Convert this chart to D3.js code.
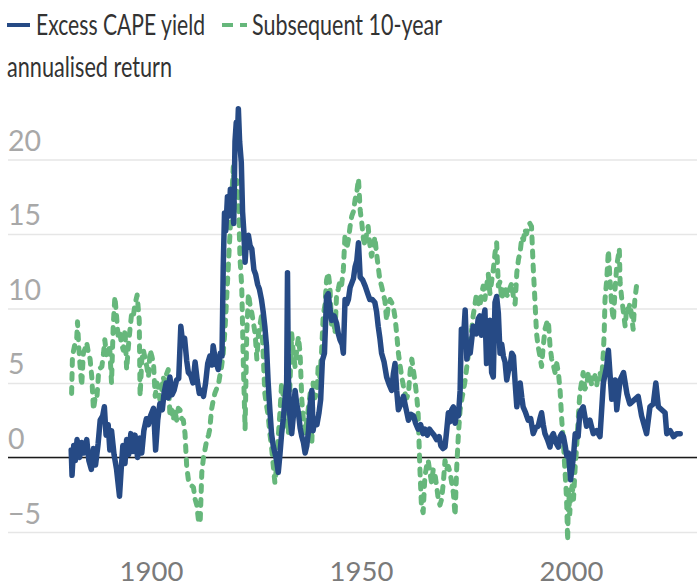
<!DOCTYPE html>
<meta charset="utf-8">
<style>
body { margin: 0; background: #fff; }
svg { display: block; font-family: Lato, "Open Sans", sans-serif; }
.grid line { stroke: #e6e6e6; stroke-width: 1.5px; }
.ylab { fill: #a8a8a8; font-size: 28.5px; }
.xlab { fill: #7a7a7a; font-size: 27.5px; }
.legend text { fill: #333; font-size: 28px; }
</style>
<body>
<script src="https://cdn.jsdelivr.net/npm/d3@7"></script>
<script>
var width = 697,
    height = 586;

var blueColor = "#264a85",
    greenColor = "#66b77b";

var yTicks = [-5, 0, 5, 10, 15, 20];
var xTicks = [1900, 1950, 2000];

// Excess CAPE yield
var capeYears = [1881.0, 1881.2, 1881.6, 1882.0, 1882.4, 1883.0, 1883.5, 1884.0, 1884.7, 1885.2, 1885.8, 1886.3, 1886.8, 1887.4, 1887.9, 1888.5, 1888.9, 1889.3, 1889.8, 1890.2, 1890.6, 1891.2, 1891.8, 1892.5, 1892.9, 1893.3, 1893.8, 1894.2, 1894.7, 1895.2, 1895.7, 1896.2, 1896.8, 1897.4, 1897.8, 1898.3, 1898.9, 1899.4, 1899.9, 1900.6, 1901.1, 1901.6, 1902.1, 1902.7, 1903.1, 1903.6, 1904.1, 1904.5, 1905.0, 1905.5, 1906.1, 1906.6, 1907.1, 1907.5, 1908.0, 1908.5, 1908.9,
  1909.5, 1910.0, 1910.5, 1911.0, 1911.5, 1912.0, 1912.5, 1913.0, 1913.5, 1914.0, 1914.5, 1914.8, 1915.3, 1916.0, 1916.5, 1916.9, 1917.2, 1917.5, 1917.8, 1918.2, 1918.6, 1918.9, 1919.4, 1919.7, 1920.0, 1920.3, 1920.6, 1920.8, 1921.1, 1921.5, 1921.8, 1922.1, 1922.4, 1922.8, 1923.2, 1923.6, 1924.0, 1924.5, 1924.9, 1925.4, 1925.8, 1926.3, 1926.7, 1927.1, 1927.5, 1927.9, 1928.3, 1928.7, 1929.1, 1929.5, 1929.9, 1930.3, 1930.7, 1931.1, 1931.5, 1931.9, 1932.3, 1932.5, 1932.7, 1933.0, 1933.5, 1933.9, 1934.3, 1934.7, 1935.1, 1935.5, 1935.9, 1936.3, 1936.7, 1937.1, 1937.5, 1937.9, 1938.3,
  1938.6, 1939.0, 1939.5, 1940.0, 1940.4, 1940.8, 1941.3, 1941.8, 1942.2, 1942.6, 1943.0, 1943.6, 1944.2, 1944.6, 1945.0, 1945.5, 1945.8, 1946.2, 1946.6, 1947.0, 1947.4, 1947.8, 1948.2, 1948.6, 1949.0, 1949.4, 1949.8, 1950.4, 1951.0, 1951.6, 1952.1, 1952.7, 1953.3, 1953.7, 1954.1, 1954.5, 1954.9, 1955.5, 1956.1, 1956.7, 1957.3, 1957.7, 1958.1, 1958.5, 1958.9, 1959.5, 1960.1, 1960.7, 1961.3, 1961.9, 1962.5, 1963.0, 1963.6, 1964.2, 1964.8, 1965.2, 1965.8, 1966.3, 1966.8, 1967.4, 1968.0, 1968.6,
  1969.0, 1969.5, 1970.0, 1970.4, 1970.8, 1971.2, 1971.6, 1972.0, 1972.4, 1972.8, 1973.2, 1973.6, 1973.9, 1974.3, 1974.8, 1975.2, 1975.6, 1976.0, 1976.4, 1976.7, 1977.1, 1977.5, 1977.9, 1978.3, 1978.7, 1979.1, 1979.5, 1979.9, 1980.3, 1980.7, 1981.1, 1981.5, 1981.9, 1982.3, 1982.7, 1983.1, 1983.5, 1983.9, 1984.3, 1984.7, 1985.1, 1985.5, 1985.9, 1986.3, 1986.7, 1987.1, 1987.5, 1987.9, 1988.3, 1988.6, 1989.2, 1989.8, 1990.4, 1991.0, 1991.6, 1992.2, 1992.6, 1993.0, 1993.4, 1993.8, 1994.4, 1995.0, 1995.4, 1995.8, 1996.4, 1997.0, 1997.4, 1997.8, 1998.2, 1998.6,
  1999.0, 1999.4, 1999.9, 2000.3, 2000.6, 2001.0, 2001.7, 2002.1, 2002.9, 2003.7, 2004.5, 2005.3, 2006.1, 2006.9, 2007.7, 2008.5, 2008.9, 2009.7, 2010.5, 2010.9, 2011.7, 2012.5, 2013.3, 2014.0, 2015.2, 2016.0, 2016.8, 2018.0, 2018.8, 2019.6, 2020.2, 2020.8, 2021.6, 2022.4, 2022.8, 2023.6, 2024.4, 2025.2, 2026.0];
var capeValues = [0.5, -1.2, 0.8, -0.2, 1.2, 0.0, 1.0, 0.3, 1.2, -0.2, -0.8, 0.6, -0.5, 0.9, 2.5, 2.8, 3.4, 1.5, 2.2, 0.5, 1.8, 0.2, -0.8, -2.6, -0.8, 0.8, -0.4, 1.2, 0.2, 1.6, 0.4, 1.5, 0.0, 1.3, 0.3, 1.8, 2.6, 2.2, 2.8, 3.3, 0.5, 2.5, 3.6, 3.2, 4.3, 5.0, 4.0, 5.4, 4.2, 4.5, 5.2, 5.3, 8.8, 7.8, 8.0, 6.5, 5.7,
  5.5, 5.0, 6.4, 5.2, 4.3, 4.5, 4.1, 5.0, 6.3, 6.8, 6.2, 7.5, 6.6, 5.9, 7.0, 6.8, 12.8, 16.4, 15.2, 17.5, 16.2, 18.0, 17.0, 15.7, 21.2, 22.5, 21.8, 23.4, 21.2, 19.8, 16.5, 15.2, 13.1, 14.8, 14.9, 14.2, 14.0, 12.6, 12.3, 11.6, 11.3, 10.6, 9.8, 8.8, 7.5, 5.0, 3.2, 1.6, 0.8, 0.3, -0.2, -1.0, 0.2, 1.6, 2.6, 3.9, 5.0, 12.4, 5.5, 3.0, 1.6, 2.8, 4.5, 3.6, 3.0, 2.0, 1.4, 1.0, 0.3, 0.8, 1.8, 3.6, 4.5,
  1.8, 2.6, 2.2, 3.0, 3.9, 6.5, 7.0, 10.8, 11.0, 10.0, 9.2, 9.5, 9.0, 8.3, 7.9, 7.6, 7.0, 10.6, 10.3, 10.6, 11.4, 11.7, 12.0, 12.8, 13.2, 14.4, 12.1, 11.9, 11.5, 11.0, 10.6, 10.6, 10.4, 9.8, 8.8, 8.0, 7.0, 6.4, 5.4, 4.9, 4.5, 5.6, 6.3, 4.5, 3.2, 3.6, 4.1, 3.3, 2.5, 2.9, 2.8, 2.3, 1.9, 2.2, 1.6, 1.9, 1.5, 1.9, 1.7, 1.5, 1.2, 1.4,
  0.8, 0.6, 0.7, 1.8, 3.0, 2.4, 3.2, 3.4, 2.3, 3.0, 2.8, 4.5, 8.6, 7.5, 9.9, 6.6, 7.4, 7.0, 8.0, 8.8, 8.5, 8.3, 9.3, 9.5, 8.2, 9.2, 9.9, 6.3, 7.5, 9.2, 5.7, 5.4, 10.4, 10.8, 9.7, 7.0, 7.6, 6.8, 6.4, 5.2, 5.8, 6.1, 7.0, 6.8, 5.0, 3.4, 4.2, 5.0, 4.0, 3.4, 3.0, 2.5, 2.6, 1.6, 2.0, 2.1, 2.6, 3.0, 2.2, 1.6, 1.2, 0.7, 1.4, 1.6, 1.0, 0.7, 1.4, 1.6, 1.4, 0.8,
  0.1, 0.3, -1.5, -0.6, 0.1, 1.6, 1.4, 3.0, 3.4, 2.1, 2.5, 1.6, 1.8, 1.4, 5.0, 6.1, 7.2, 3.9, 5.2, 3.2, 5.2, 5.7, 4.3, 3.6, 3.9, 4.1, 2.8, 1.6, 3.4, 3.6, 5.0, 3.4, 3.2, 3.0, 1.6, 1.8, 1.4, 1.6, 1.6];

// Subsequent 10-year annualised return
var returnYears = [1881.1, 1881.3, 1881.8, 1882.3, 1882.5, 1882.8, 1883.1, 1883.5, 1883.9, 1884.3, 1884.7, 1885.1, 1885.5, 1885.9, 1886.3, 1886.7, 1887.1, 1887.5, 1887.9, 1888.3, 1888.7, 1889.0, 1889.4, 1889.8, 1890.2, 1890.6, 1891.0, 1891.4, 1891.8, 1892.2, 1892.6, 1893.0, 1893.4, 1893.8, 1894.2, 1894.6, 1895.0, 1895.4, 1895.8, 1896.2, 1896.7, 1897.2, 1897.4, 1897.8, 1898.2, 1898.6, 1899.0, 1899.4, 1899.8, 1900.2, 1900.6, 1901.0, 1901.4, 1901.7, 1902.1, 1902.5, 1902.9, 1903.3, 1903.7, 1904.1, 1904.5, 1904.9, 1905.3, 1905.7, 1906.1, 1906.5, 1906.9, 1907.3, 1907.7, 1908.1, 1908.5, 1908.9,
  1909.3, 1909.7, 1910.1, 1910.5, 1910.9, 1911.3, 1911.7, 1912.1, 1912.5, 1912.9, 1913.3, 1913.7, 1914.0, 1914.4, 1914.8, 1915.2, 1915.6, 1916.0, 1916.4, 1916.8, 1917.2, 1917.6, 1918.0, 1918.4, 1918.8, 1919.2, 1919.6, 1920.0, 1920.4, 1920.8, 1921.2, 1921.6, 1922.0, 1922.4, 1922.8, 1923.2, 1923.6, 1924.0, 1924.4, 1924.8, 1925.2, 1925.6, 1926.0, 1926.3, 1926.7, 1927.1, 1927.5, 1927.9, 1928.3, 1928.7, 1929.1, 1929.5, 1929.9, 1930.3, 1930.7, 1931.1, 1931.5, 1931.9, 1932.3, 1932.7, 1933.1, 1933.5, 1933.9, 1934.3, 1934.7, 1935.1, 1935.5, 1935.9, 1936.3, 1936.7, 1937.1, 1937.5, 1937.9,
  1938.3, 1938.6, 1939.0, 1939.5, 1939.8, 1940.2, 1940.6, 1941.0, 1941.4, 1941.8, 1942.2, 1942.6, 1943.0, 1943.4, 1943.8, 1944.2, 1944.6, 1945.0, 1945.4, 1945.8, 1946.2, 1946.6, 1947.0, 1947.4, 1947.8, 1948.2, 1948.6, 1949.0, 1949.4, 1949.8, 1950.2, 1950.6, 1951.0, 1951.4, 1951.7, 1952.1, 1952.5, 1952.9, 1953.3, 1953.7, 1954.1, 1954.5, 1954.9, 1955.3, 1955.7, 1956.1, 1956.5, 1956.9, 1957.3, 1957.7, 1958.1, 1958.5, 1958.9, 1959.3, 1959.7, 1960.1, 1960.5, 1960.9, 1961.3, 1961.7, 1962.1, 1962.5, 1962.9, 1963.3, 1963.6, 1964.0, 1964.4, 1964.8, 1965.2, 1965.6, 1966.0, 1966.4, 1966.8, 1967.2, 1967.6, 1968.0, 1968.4, 1968.8,
  1969.2, 1969.6, 1970.0, 1970.4, 1970.8, 1971.2, 1971.6, 1972.0, 1972.4, 1972.8, 1973.2, 1973.6, 1974.0, 1974.4, 1974.8, 1975.2, 1975.6, 1976.0, 1976.4, 1976.7, 1977.1, 1977.5, 1977.9, 1978.3, 1978.7, 1979.1, 1979.5, 1979.9, 1980.3, 1980.7, 1981.1, 1981.5, 1981.9, 1982.3, 1982.7, 1983.1, 1983.5, 1983.9, 1984.3, 1984.7, 1985.1, 1985.5, 1985.9, 1986.3, 1986.7, 1987.1, 1987.5, 1987.9, 1988.3, 1988.7, 1989.0, 1989.4, 1989.8, 1990.2, 1990.6, 1991.0, 1991.4, 1991.8, 1992.2, 1992.6, 1993.0, 1993.4, 1993.8, 1994.2, 1994.6, 1995.0, 1995.4, 1995.8, 1996.2, 1996.6, 1997.0, 1997.4, 1997.8,
  1998.2, 1998.5, 1998.8, 1999.0, 1999.2, 1999.4, 1999.7, 2000.0, 2000.3, 2000.6, 2001.0, 2001.3, 2001.7, 2002.1, 2002.5, 2002.9, 2003.3, 2003.7, 2004.1, 2004.5, 2004.9, 2005.3, 2005.7, 2006.1, 2006.5, 2006.9, 2007.3, 2007.7, 2007.9, 2008.1, 2008.5, 2008.9, 2009.3, 2009.7, 2010.1, 2010.5, 2010.9, 2011.3, 2011.5, 2011.7, 2012.1, 2012.5, 2012.9, 2013.3, 2013.7, 2014.0, 2014.4, 2014.8, 2015.2, 2015.6, 2016.0];
var returnValues = [4.3, 6.8, 7.5, 7.9, 9.1, 7.4, 6.2, 4.8, 7.0, 7.3, 7.7, 7.0, 6.6, 5.4, 3.2, 4.0, 3.9, 5.6, 6.0, 6.1, 7.0, 7.9, 6.9, 7.5, 7.2, 5.0, 8.8, 10.8, 9.5, 8.0, 8.3, 7.6, 7.2, 8.6, 5.9, 7.4, 8.6, 9.7, 9.5, 10.3, 10.9, 9.2, 4.1, 6.5, 7.2, 6.6, 6.1, 5.4, 7.2, 6.8, 6.3, 4.1, 5.0, 4.8, 3.9, 4.4, 5.4, 5.0, 5.6, 5.9, 2.8, 3.2, 2.5, 3.2, 2.5, 3.3, 3.2, 2.6, 2.5, 1.6, -0.6, -1.5,
  -1.6, -1.9, -2.0, -2.8, -3.2, -4.2, -4.4, -1.0, 0.0, 0.6, 1.2, 1.5, 1.9, 3.2, 3.8, 4.3, 4.6, 4.8, 5.5, 6.1, 7.0, 8.5, 10.6, 12.8, 15.0, 17.3, 19.5, 16.8, 18.6, 17.5, 13.3, 11.5, 6.1, 1.9, 8.3, 11.0, 10.2, 9.7, 9.0, 8.3, 6.6, 8.3, 9.0, 9.5, 7.0, 4.3, 3.5, 2.8, 1.6, 0.7, -0.5, -1.7, -0.6, 1.4, 3.0, 5.0, 4.0, 4.3, 2.5, 1.6, 5.0, 8.3, 7.0, 6.1, 7.2, 8.1, 7.0, 3.9, 2.5, 1.6, 2.5, 3.4, 4.3,
  1.0, 5.0, 4.0, 4.3, 6.1, 5.4, 7.0, 9.5, 10.2, 11.9, 12.4, 11.5, 8.8, 9.6, 8.3, 11.0, 11.3, 11.9, 11.6, 12.6, 15.0, 14.0, 14.6, 15.5, 16.2, 16.5, 17.3, 17.8, 18.7, 16.6, 15.7, 14.6, 14.2, 15.2, 15.5, 14.3, 13.5, 14.0, 14.8, 13.7, 12.8, 11.9, 11.5, 11.0, 10.5, 9.2, 10.2, 10.6, 10.4, 10.1, 9.4, 8.3, 7.0, 6.2, 5.4, 4.8, 4.3, 4.0, 4.3, 5.8, 6.6, 5.8, 5.0, 4.0, 3.0, -0.6, -3.3, -3.7, -1.3, -0.6, -0.2, -1.0, -1.7, -0.8, -1.1, -1.9, -2.8, -3.2,
  -2.8, -1.7, -0.2, -0.8, -0.6, -1.0, -1.7, -2.4, -3.9, -0.6, 1.6, 3.2, 3.9, 4.5, 5.2, 6.1, 7.0, 7.9, 8.7, 9.5, 10.2, 11.0, 10.4, 10.1, 11.0, 11.5, 10.6, 11.5, 12.3, 11.0, 11.8, 12.6, 13.7, 14.4, 11.5, 11.8, 10.6, 11.2, 11.5, 10.9, 10.8, 11.4, 11.7, 10.7, 10.3, 12.4, 13.3, 13.8, 14.8, 14.6, 15.3, 15.0, 15.5, 15.7, 15.5, 12.8, 10.6, 8.3, 7.4, 6.8, 6.1, 7.5, 8.6, 9.0, 9.2, 7.5, 6.6, 6.2, 5.7, 6.3, 5.7, 4.5, 2.5,
  1.0, -0.6, -2.0, -3.3, -5.6, -2.2, -3.8, -2.2, -1.9, -2.8, -0.6, 0.5, 2.5, 4.3, 5.0, 5.7, 4.6, 4.8, 5.6, 5.7, 4.9, 5.2, 5.5, 4.8, 5.6, 5.7, 5.2, 7.0, 8.3, 10.6, 11.9, 13.9, 11.9, 10.1, 9.2, 11.3, 12.9, 13.6, 14.0, 11.7, 10.6, 9.7, 8.8, 10.1, 9.9, 10.3, 9.6, 8.6, 10.6, 11.5, 11.9];

var cape = capeYears.map(function (d, i) { return [d, capeValues[i]]; });
var returns = returnYears.map(function (d, i) { return [d, returnValues[i]]; });

var x = d3.scaleLinear().domain([1900, 2000]).range([151, 571]);
var y = d3.scaleLinear().domain([-5, 20]).range([532, 159.4]);

var svg = d3.select("body").append("svg")
    .attr("width", width)
    .attr("height", height);

// gridlines + y labels
var yAxis = svg.append("g")
    .attr("class", "grid")
    .attr("transform", "translate(8,0)")
    .call(d3.axisRight(y).tickValues(yTicks).tickSize(width - 8).tickFormat(d3.format("d")));
yAxis.select(".domain").remove();
yAxis.attr("font-family", null).attr("font-size", null);
yAxis.selectAll("text")
    .attr("class", "ylab")
    .attr("x", 0)
    .attr("dy", -9)
    .attr("text-anchor", "start")
    .attr("fill", null);

// x labels
var xAxis = svg.append("g")
    .attr("transform", "translate(0,560)")
    .call(d3.axisBottom(x).tickValues(xTicks).tickSize(0).tickFormat(d3.format("d")));
xAxis.select(".domain").remove();
xAxis.attr("font-family", null).attr("font-size", null);
xAxis.selectAll("text")
    .attr("class", "xlab")
    .attr("fill", null)
    .attr("y", 20.5)
    .attr("dy", 0);

// zero line
svg.append("line")
    .attr("x1", 8).attr("x2", width)
    .attr("y1", y(0)).attr("y2", y(0))
    .attr("stroke", "#1a1a1a")
    .attr("stroke-width", 1.6);

var line = d3.line()
    .x(function (d) { return x(d[0]); })
    .y(function (d) { return y(d[1]); });

svg.append("path")
    .datum(returns)
    .attr("d", line)
    .attr("fill", "none")
    .attr("stroke", greenColor)
    .attr("stroke-width", 5)
    .attr("stroke-linecap", "round")
    .attr("stroke-linejoin", "round")
    .attr("stroke-dasharray", "6,8");

svg.append("path")
    .datum(cape)
    .attr("d", line)
    .attr("fill", "none")
    .attr("stroke", blueColor)
    .attr("stroke-width", 5.5)
    .attr("stroke-linejoin", "round")
    .attr("stroke-linecap", "round");

// legend
var legend = svg.append("g").attr("class", "legend");
legend.append("line")
    .attr("x1", 7).attr("x2", 30).attr("y1", 25).attr("y2", 25)
    .attr("stroke", blueColor).attr("stroke-width", 4);
legend.append("text")
    .attr("x", 36).attr("y", 35)
    .attr("textLength", 169).attr("lengthAdjust", "spacingAndGlyphs")
    .text("Excess CAPE yield");
legend.append("line")
    .attr("x1", 222).attr("x2", 247).attr("y1", 25).attr("y2", 25)
    .attr("stroke", greenColor).attr("stroke-width", 4)
    .attr("stroke-dasharray", "11,7");
legend.append("text")
    .attr("x", 252).attr("y", 35)
    .attr("textLength", 190).attr("lengthAdjust", "spacingAndGlyphs")
    .text("Subsequent 10-year");
legend.append("text")
    .attr("x", 7).attr("y", 77)
    .attr("textLength", 165).attr("lengthAdjust", "spacingAndGlyphs")
    .text("annualised return");
</script>
</body>
